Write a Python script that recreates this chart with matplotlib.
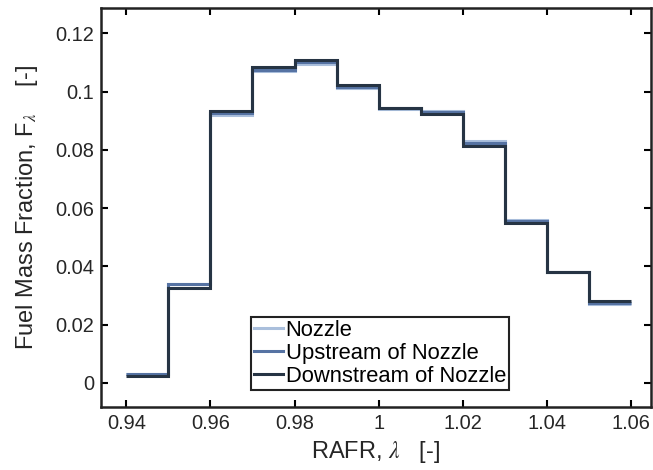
import numpy as np
import matplotlib
matplotlib.use('Agg')
import matplotlib.pyplot as plt
from matplotlib.ticker import FuncFormatter

# bin edges of the RAFR histogram and mass fraction per bin
edges = np.round(np.arange(0.94, 1.0601, 0.01), 2)
nozzle = [0.0031, 0.0341, 0.0918, 0.1069, 0.1093, 0.1012, 0.0941, 0.0933, 0.0830, 0.0560, 0.0381, 0.0269]
upstream = [0.0031, 0.0338, 0.0926, 0.1075, 0.1100, 0.1017, 0.0942, 0.0929, 0.0823, 0.0555, 0.0381, 0.0275]
downstream = [0.0023, 0.0326, 0.0934, 0.1084, 0.1110, 0.1024, 0.0943, 0.0922, 0.0813, 0.0548, 0.0381, 0.0280]

series_names = ['Nozzle', 'Upstream of Nozzle', 'Downstream of Nozzle']
colours = ['#aabfdc', '#5673a3', '#263444']

plt.rcParams['font.family'] = ['Liberation Sans', 'DejaVu Sans']
plt.rcParams['mathtext.fontset'] = 'stix'

fig = plt.figure(figsize=(6.53, 4.70), dpi=100)
ax = fig.add_axes([0.1547, 0.134, 0.842, 0.849])

for vals, name, col in zip([nozzle, upstream, downstream], series_names, colours):
    ax.stairs(vals, edges, color=col, linewidth=2.2, label=name, baseline=None)

ax.set_xlim(0.934, 1.0647)
ax.set_ylim(-0.0083, 0.1287)
ax.set_xticks(edges[::2])
ax.set_yticks(np.arange(0, 0.121, 0.02))
fmt = FuncFormatter(lambda v, p: '%g' % round(v, 4))
ax.xaxis.set_major_formatter(fmt)
ax.yaxis.set_major_formatter(fmt)
ax.tick_params(direction='in', length=5, width=1.5, labelsize=14.4, labelcolor='#262626',
               top=True, right=True, pad=5)
for s in ax.spines.values():
    s.set_linewidth(1.8)
    s.set_color('#222222')

ax.set_xlabel(r'RAFR, $\lambda$   [-]', fontsize=17, color='#262626')
ax.set_ylabel(r'Fuel Mass Fraction, F$_{\lambda}$    [-]', fontsize=17, labelpad=11, color='#262626')

leg = ax.legend(loc='lower left', bbox_to_anchor=(0.272, 0.043), fontsize=15.8,
                handlelength=1.35, handletextpad=0.1, labelspacing=0.08,
                borderpad=0.15, borderaxespad=0, fancybox=False, framealpha=1)
leg.get_frame().set_edgecolor('#222222')
leg.get_frame().set_linewidth(1.5)

fig.savefig('out.png', dpi=100)
